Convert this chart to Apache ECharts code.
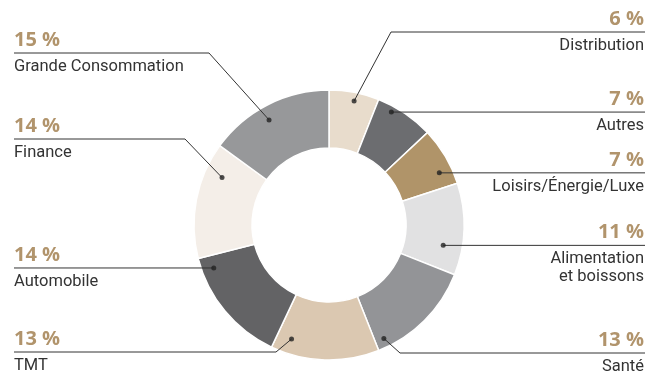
<!DOCTYPE html>
<html><head><meta charset="utf-8">
<script src="https://cdn.jsdelivr.net/npm/echarts@6/dist/echarts.min.js"></script>
<style>html,body{margin:0;padding:0;background:#fff}#c{width:646px;height:373px}</style>
</head><body><div id="c"></div>
<script>
// ---- data ----
const categories = ['Distribution', 'Autres', 'Loisirs/Énergie/Luxe', 'Alimentation\net boissons', 'Santé', 'TMT', 'Automobile', 'Finance', 'Grande Consommation'];
const shares = [6, 7, 7, 11, 13, 13, 14, 14, 15];
const percentLabels = ['6 %', '7 %', '7 %', '11 %', '13 %', '13 %', '14 %', '14 %', '15 %'];

// ---- styles / layout ----
const colors = ['#e8dccc', '#6c6d70', '#b09469', '#e1e1e2', '#939497', '#dbc8b1', '#636365', '#f4eee8', '#97989a'];
const CX = 329, CY = 225, R_IN = 77, R_OUT = 135;
const dotFrac = [0.53, 0.29, 0.71, 0.71, 0.91, 0.85, 0.88, 0.76, 0.45];
const dotR = [126.5, 129, 122, 116, 126, 120, 123, 117, 121];
const side = ['r', 'r', 'r', 'r', 'r', 'l', 'l', 'l', 'l'];
const leaderY = [32, null, null, null, 353, 352, null, 139, 53];
const cornerX = [391, null, null, null, 400, 276, null, 185, 209];
const FONT = 'Roboto';
const PFONT = 'Open Sans';

const total = shares.reduce((a, b) => a + b, 0);
const cum = [];
shares.reduce((acc, v, i) => { cum[i] = acc; return acc + v; }, 0);
const dotPos = shares.map((v, i) => (cum[i] + dotFrac[i] * v) / total * 100);

function dotXY(i) {
  const th = dotPos[i] / 100 * Math.PI * 2;
  return [CX + dotR[i] * Math.sin(th), CY - dotR[i] * Math.cos(th)];
}

const pieData = categories.map((n, i) => ({ name: n, value: shares[i], itemStyle: { color: colors[i] } }));

const chart = echarts.init(document.getElementById('c'), null, { renderer: 'canvas' });
chart.setOption({
  animation: false,
  backgroundColor: '#fff',
  polar: { center: [CX, CY], radius: R_OUT },
  angleAxis: { type: 'value', min: 0, max: 100, startAngle: 90, clockwise: true, show: false },
  radiusAxis: { type: 'value', min: 0, max: R_OUT, show: false },
  series: [
    {
      type: 'pie',
      z: 2,
      center: [CX, CY],
      radius: [R_IN, R_OUT],
      startAngle: 90,
      clockwise: true,
      silent: true,
      itemStyle: { borderColor: '#fff', borderWidth: 1.5 },
      data: pieData,
      label: { show: false },
      labelLine: { show: false }
    },
    {
      type: 'pie',
      z: 3,
      center: [CX, CY],
      radius: [R_IN, R_OUT],
      startAngle: 90,
      clockwise: true,
      silent: true,
      itemStyle: { color: 'rgba(0,0,0,0)', borderWidth: 0 },
      data: categories.map((n, i) => ({ name: n, value: shares[i] })),
      label: {
        show: true,
        position: 'outside',
        overflow: 'none',
        fontFamily: FONT,
        formatter: function (p) {
          const i = p.dataIndex, s = side[i];
          const lines = categories[i].split('\n').map(t => '{n' + s + '|' + t + '}');
          return '{p' + s + '|' + percentLabels[i] + '}\n' + lines.join('\n');
        },
        rich: {
          pl: { fontFamily: PFONT, fontSize: 20, fontWeight: 'bold', color: '#b1946c', lineHeight: 36, align: 'left' },
          pr: { fontFamily: PFONT, fontSize: 20, fontWeight: 'bold', color: '#b1946c', lineHeight: 36, align: 'right' },
          nl: { fontFamily: FONT, fontSize: 16.5, color: '#333333', lineHeight: 18, align: 'left' },
          nr: { fontFamily: FONT, fontSize: 16.5, color: '#333333', lineHeight: 18, align: 'right' }
        }
      },
      labelLine: { show: true, lineStyle: { color: '#333', width: 1 } },
      labelLayout: function (params) {
        const i = params.dataIndex;
        const d = dotXY(i);
        const ly = leaderY[i] == null ? d[1] : leaderY[i];
        const cx = cornerX[i] == null ? d[0] : cornerX[i];
        const endX = side[i] === 'l' ? 14 : 645;
        return {
          x: side[i] === 'l' ? 14 : 644,
          y: ly - 31,
          align: side[i] === 'l' ? 'left' : 'right',
          verticalAlign: 'top',
          labelLinePoints: [[d[0], d[1]], [cx, ly], [endX, ly]]
        };
      }
    },
    {
      type: 'scatter',
      coordinateSystem: 'polar',
      silent: true,
      z: 10,
      symbol: 'circle',
      symbolSize: 5,
      itemStyle: { color: '#222' },
      data: dotPos.map((a, i) => [dotR[i], a])
    }
  ]
});
</script></body></html>
